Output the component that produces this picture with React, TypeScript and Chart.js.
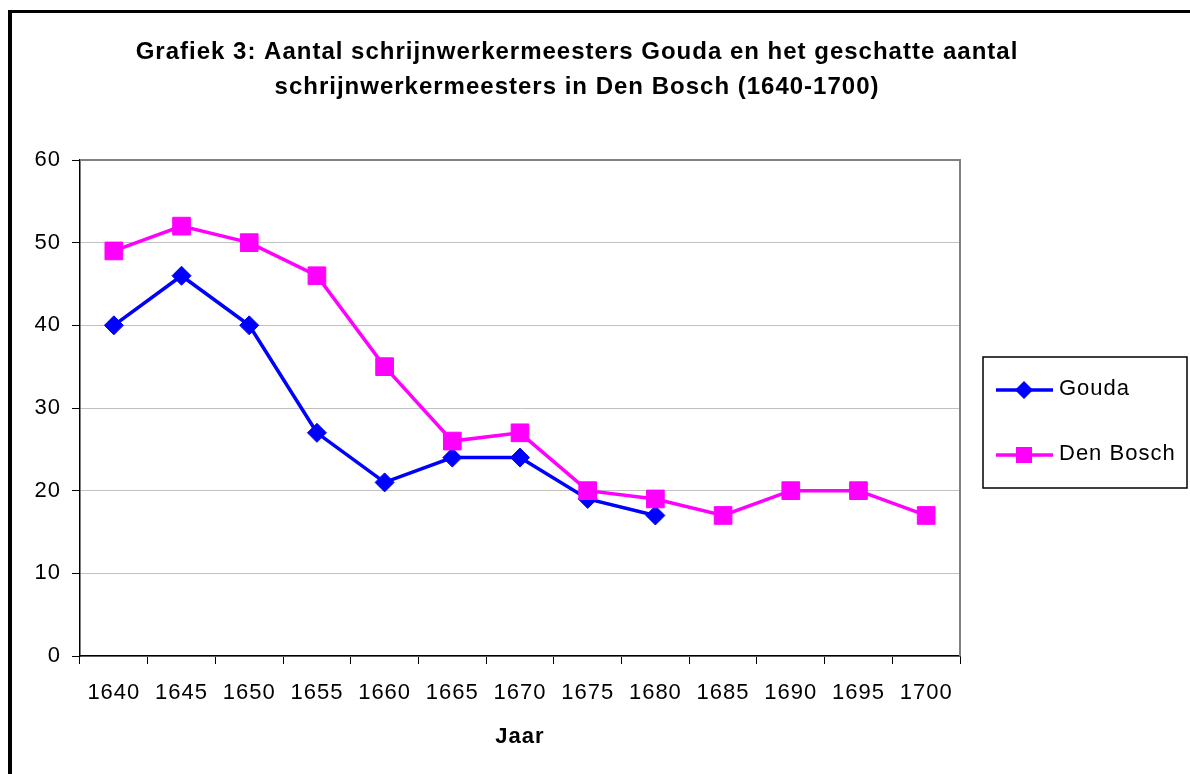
import React, { useEffect, useRef } from 'react';
import { Chart, registerables } from 'chart.js';

Chart.register(...registerables);

// ---- Data ----
const years = ['1640', '1645', '1650', '1655', '1660', '1665', '1670', '1675', '1680', '1685', '1690', '1695', '1700'];
const goudaValues = [40, 46, 40, 27, 21, 24, 24, 19, 17, null, null, null, null];
const denBoschValues = [49, 52, 50, 46, 35, 26, 27, 20, 19, 17, 20, 20, 17];
const seriesNames = ['Gouda', 'Den Bosch'];
const titleLines = [
  'Grafiek 3: Aantal schrijnwerkermeesters Gouda en het geschatte aantal',
  'schrijnwerkermeesters in Den Bosch (1640-1700)',
];
const xAxisTitle = 'Jaar';
const yMin = 0;
const yMax = 60;
const yStep = 10;

const FONT = "'Liberation Sans', Arial, sans-serif";
const GOUDA_COLOR = '#0000FF';
const BOSCH_COLOR = '#FF00FF';

const decorPlugin = {
  id: 'decor',
  beforeDraw(chart: any) {
    try { (chart.ctx as any).letterSpacing = '1px'; } catch (e) {}
  },
  beforeDatasetsDraw(chart: any) {
    const { ctx, chartArea } = chart;
    ctx.save();
    ctx.strokeStyle = '#808080';
    ctx.lineWidth = 2;
    ctx.beginPath();
    ctx.moveTo(chartArea.left, chartArea.top);
    ctx.lineTo(chartArea.right, chartArea.top);
    ctx.lineTo(chartArea.right, chartArea.bottom);
    ctx.stroke();
    ctx.restore();
  },
  afterDraw(chart: any) {
    const { ctx } = chart;
    ctx.save();
    // Title
    ctx.fillStyle = '#000';
    ctx.font = `bold 24px ${FONT}`;
    ctx.textAlign = 'center';
    ctx.textBaseline = 'middle';
    try { (ctx as any).letterSpacing = '1px'; } catch (e) {}
    const tx = 565;
    titleLines.forEach((line, i) => {
      ctx.fillText(line, tx, 39 + i * 35);
    });

    // Legend box
    const bx = 971, by = 344, bw = 204, bh = 131;
    ctx.strokeStyle = '#000';
    ctx.lineWidth = 1.5;
    ctx.strokeRect(bx, by, bw, bh);
    const items = chart.data.datasets.map((ds: any) => ({
      label: ds.label,
      color: ds.borderColor,
      style: ds.pointStyle,
    }));
    const ordered = [...items].sort((a: any, b: any) => seriesNames.indexOf(a.label) - seriesNames.indexOf(b.label));
    ordered.forEach((it: any, i: number) => {
      const cy = 377 + i * 65;
      const mx = 1012;
      ctx.strokeStyle = it.color;
      ctx.lineWidth = 3.5;
      ctx.beginPath();
      ctx.moveTo(984, cy);
      ctx.lineTo(1041, cy);
      ctx.stroke();
      ctx.fillStyle = it.color;
      ctx.beginPath();
      if (it.style === 'rectRot') {
        const r = 9;
        ctx.moveTo(mx - r, cy);
        ctx.lineTo(mx, cy - r);
        ctx.lineTo(mx + r, cy);
        ctx.lineTo(mx, cy + r);
        ctx.closePath();
      } else {
        ctx.rect(mx - 8, cy - 8, 16, 16);
      }
      ctx.fill();
      ctx.fillStyle = '#000';
      ctx.font = `22px ${FONT}`;
      ctx.textAlign = 'left';
      ctx.textBaseline = 'middle';
      ctx.fillText(it.label, 1047, cy - 1);
    });
    ctx.restore();
  },
};

export default function App() {
  const canvasRef = useRef<HTMLCanvasElement | null>(null);

  useEffect(() => {
    const canvas = canvasRef.current;
    if (!canvas) return;
    const chart = new Chart(canvas, {
      type: 'line',
      data: {
        labels: years,
        datasets: [
          {
            label: seriesNames[0],
            data: goudaValues,
            borderColor: GOUDA_COLOR,
            backgroundColor: GOUDA_COLOR,
            pointBackgroundColor: GOUDA_COLOR,
            pointBorderColor: GOUDA_COLOR,
            borderWidth: 3.5,
            pointStyle: 'rectRot',
            pointRadius: 9.5,
            pointBorderWidth: 1,
            tension: 0,
            order: 1,
            spanGaps: false,
          },
          {
            label: seriesNames[1],
            data: denBoschValues,
            borderColor: BOSCH_COLOR,
            backgroundColor: BOSCH_COLOR,
            pointBackgroundColor: BOSCH_COLOR,
            pointBorderColor: BOSCH_COLOR,
            borderWidth: 3.5,
            pointStyle: 'rect',
            pointRadius: 12.5,
            pointBorderWidth: 1,
            tension: 0,
            order: 0,
          },
        ],
      },
      options: {
        responsive: false,
        animation: false,
        layout: { padding: { top: 147, left: 0, right: 230, bottom: 0 } },
        plugins: {
          legend: { display: false },
          title: { display: false },
          tooltip: { enabled: false },
        },
        scales: {
          x: {
            type: 'category',
            offset: true,
            afterFit: (scale: any) => { scale.height = 118; },
            grid: {
              display: true,
              drawOnChartArea: false,
              drawTicks: true,
              tickLength: 8,
              tickColor: '#000',
              tickWidth: 1,
              offset: true,
            },
            border: { display: true, color: '#000', width: 1.5 },
            ticks: {
              color: '#000',
              font: { family: FONT, size: 22 },
              padding: 16,
              maxRotation: 0,
              autoSkip: false,
            },
            title: {
              display: true,
              text: xAxisTitle,
              color: '#000',
              font: { family: FONT, size: 22, weight: 'bold' },
              padding: { top: 0, bottom: 24 },
            },
          },
          y: {
            min: yMin,
            max: yMax,
            afterFit: (scale: any) => { scale.width = 68; },
            grid: {
              color: '#c0c0c0',
              lineWidth: 1,
              drawTicks: true,
              tickLength: 8,
              tickColor: '#000',
              tickWidth: 1,
            },
            border: { display: true, color: '#000', width: 1.5 },
            ticks: {
              stepSize: yStep,
              color: '#000',
              font: { family: FONT, size: 22 },
              padding: 11,
            },
          },
        },
      },
      plugins: [decorPlugin],
    });
    return () => chart.destroy();
  }, []);

  return (
    <div
      style={{
        position: 'fixed',
        left: 8,
        top: 10,
        width: 1200,
        height: 800,
        borderStyle: 'solid',
        borderColor: '#000',
        borderLeftWidth: 4,
        borderTopWidth: 3,
        borderRightWidth: 4,
        borderBottomWidth: 4,
        background: '#fff',
        boxSizing: 'border-box',
      }}
    >
      <canvas ref={canvasRef} width={1178} height={761} style={{ display: 'block' }} />
    </div>
  );
}
